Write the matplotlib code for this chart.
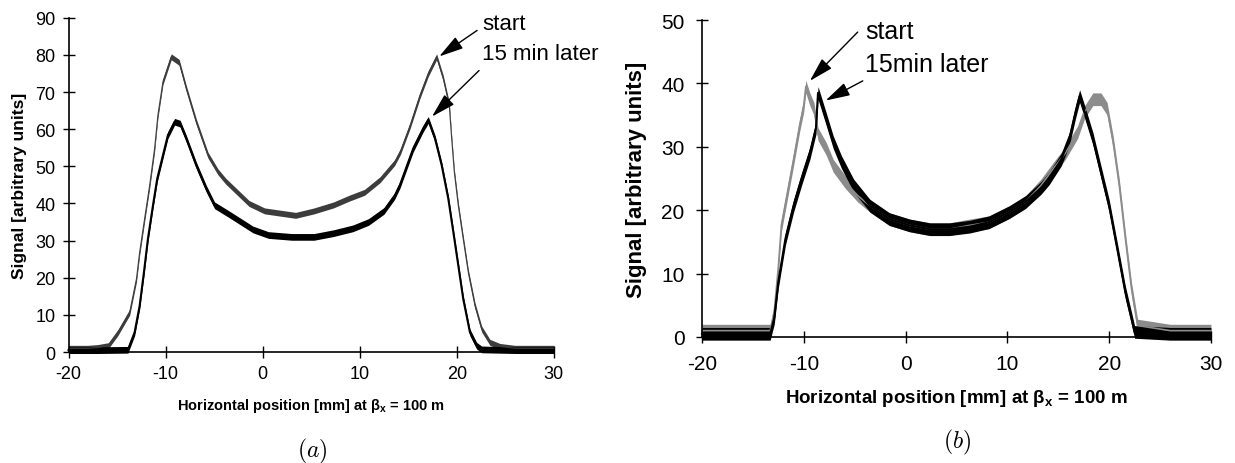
import numpy as np
import matplotlib
matplotlib.use("Agg")
import matplotlib.pyplot as plt

plt.rcParams['font.family'] = ['Liberation Sans', 'DejaVu Sans']
plt.rcParams['axes.unicode_minus'] = False

# ---- panel (a): beam profile, start and 15 min later ----
xa_start = [-20, -18, -17, -15.9, -14.9, -13.7, -13.0, -12.67, -12.16, -11.64, -11.13, -10.79,
            -10.27, -9.42, -8.6, -7.87, -6.84, -5.63, -4.6, -3.8, -2.6, -1.4, 0.2, 1.8, 3.4,
            5.3, 7.3, 8.9, 10.5, 12.1, 13.6, 14.2, 15.2, 16.2, 17.07, 17.93, 18.61, 19.23,
            19.48, 19.75, 20.16, 20.67, 21.19, 21.88, 22.57, 23.42, 24.45, 26, 30]
ya_start = [1, 1, 1.2, 1.7, 5.3, 10.7, 19.7, 26.9, 35.9, 44.9, 54.8, 63.8,
            72.8, 79.5, 78, 71, 62, 53, 48.5, 46, 43, 40, 38, 37.4, 36.8,
            38, 39.6, 41.4, 43, 46.4, 51, 54, 61, 69, 75, 79.5, 73.7, 66.5,
            57.5, 48.5, 39.5, 30.5, 21.5, 12.5, 6.2, 2.6, 1.5, 1, 1]

xa_later = [-20, -17, -13.88, -13.19, -12.67, -12.23, -11.82, -11.3, -10.86, -10.27, -9.76,
            -9.07, -8.5, -7.87, -6.84, -5.81, -4.95, -3.4, -2.2, -1.0, 0.6, 3.0, 5.3, 7.3,
            9.3, 10.9, 12.5, 13.6, 14.15, 15.52, 16.55, 17.07, 17.76, 18.45, 19.13, 19.65,
            20.16, 20.67, 21.36, 22.05, 22.57, 26, 30]
ya_later = [0.5, 0.5, 0.6, 5.3, 12.5, 21.5, 30.5, 39.5, 46.7, 53, 58.4,
            62, 61.5, 57.5, 50.3, 44, 39.5, 37, 35, 33, 31.5, 31, 31, 32,
            33.3, 35, 38, 42, 45, 54.8, 60.2, 62.5, 57.5, 50.3, 41.3, 32.3,
            23.3, 14.3, 5.3, 1.7, 0.7, 0.5, 0.5]

# ---- panel (b) ----
xb_start = [-20, -16, -13.3, -12.9, -12.5, -12.2, -11.6, -11.0, -10.4, -10.0, -9.8, -9.4, -9.0,
            -8.6, -7.8, -7.1, -5.9, -4.7, -3.5, -1.6, 0.4, 2.4, 4.3, 6.3, 8.2, 10.2, 11.8,
            13.3, 14.5, 15.7, 16.9, 17.6, 18.4, 19.2, 19.8, 20.4, 21.0, 21.6, 22.2, 22.8, 26, 30]
yb_start = [1, 1, 1, 4, 11, 17.6, 22.8, 28, 33.4, 36.5, 39.5, 37.5, 36,
            32, 29.7, 27, 24.4, 22.3, 20.7, 18.6, 17.6, 17, 17, 17.6, 18.1, 19.7, 21.3,
            23.9, 26.5, 29, 32.3, 35.5, 37.5, 37.5, 36, 30.7, 23.9, 15.5, 7.6, 1.8, 1, 1]

xb_later = [-20, -16, -13.3, -12.9, -12.5, -11.8, -11.0, -10.2, -9.4, -8.8, -8.6, -8.4, -7.8,
            -7.1, -6.3, -5.1, -3.5, -1.6, 0.4, 2.4, 4.3, 6.3, 8.2, 10.2, 11.8, 13.3, 14.1,
            15.3, 16.1, 16.7, 17.1, 17.6, 18.4, 19.2, 20.0, 20.8, 21.6, 22.2, 22.5, 26, 30]
yb_later = [0.5, 0.5, 0.5, 3, 8.7, 15.5, 20.7, 25, 29, 33, 38.5, 37.5, 34.4,
            30.7, 27.6, 23.9, 20.7, 18.6, 17.6, 17, 17, 17.4, 18.1, 19.7, 21.3, 23.5, 25,
            28, 31.3, 35.5, 38, 35.5, 31.3, 26, 20.7, 13.9, 7, 2.9, 0.8, 0.5, 0.5]

# half-width of the noise band on each trace
noise_a_start = 0.8
noise_a_later = 0.9
noise_b_start = 1.0
noise_b_later = 1.0

fig = plt.figure(figsize=(12.35, 4.64), dpi=100)
ax1 = fig.add_axes([0.0555, 0.2392, 0.3929, 0.7203])
ax2 = fig.add_axes([0.5684, 0.2716, 0.4121, 0.6831])


def style_axes(ax, ymax, tick_fs, pad):
    ax.set_xlim(-20, 30)
    ax.set_ylim(0, ymax)
    ax.set_xticks(range(-20, 31, 10))
    ax.set_yticks(range(0, ymax + 1, 10))
    for s in ['top', 'right']:
        ax.spines[s].set_visible(False)
    for s in ['left', 'bottom']:
        ax.spines[s].set_linewidth(1.2)
    ax.tick_params(direction='inout', length=9, width=1.0, labelsize=tick_fs, pad=pad)


def draw_curve(ax, x, y, noise, color, lw):
    x = np.array(x)
    y = np.array(y)
    ax.fill_between(x, y - noise, y + noise, color=color, lw=0, clip_on=False)
    ax.plot(x, y, color=color, lw=lw, clip_on=False)


arrow = dict(arrowstyle='-|>,head_length=1.0,head_width=0.28', color='black', lw=1.0,
             mutation_scale=15, shrinkA=0, shrinkB=0)

# panel (a)
style_axes(ax1, 90, 13, 5)
draw_curve(ax1, xa_start, ya_start, noise_a_start, '#3c3c3c', 0.8)
draw_curve(ax1, xa_later, ya_later, noise_a_later, 'black', 1.5)
ax1.set_xlabel('Horizontal position [mm] at β$_\\mathregular{x}$ = 100 m', fontsize=10.5,
               fontweight='bold', labelpad=10)
ax1.set_ylabel('Signal [arbitrary units]', fontsize=12.5, fontweight='bold', labelpad=6)
ax1.text(22.6, 88.5, 'start', fontsize=16, va='center', ha='left', clip_on=False)
ax1.text(22.6, 80.4, '15 min later', fontsize=16, va='center', ha='left', clip_on=False)
ax1.annotate('', xy=(18.2, 79.6), xytext=(22.1, 86.6), arrowprops=arrow, annotation_clip=False)
ax1.annotate('', xy=(17.45, 63.4), xytext=(22.3, 75.8), arrowprops=arrow, annotation_clip=False)

# panel (b)
style_axes(ax2, 50, 15, 8)
draw_curve(ax2, xb_start, yb_start, noise_b_start, '#8c8c8c', 1.2)
draw_curve(ax2, xb_later, yb_later, noise_b_later, 'black', 1.5)
ax2.set_xlabel('Horizontal position [mm] at β$_\\mathregular{x}$ = 100 m', fontsize=13.5,
               fontweight='bold', labelpad=10)
ax2.set_ylabel('Signal [arbitrary units]', fontsize=16, fontweight='bold', labelpad=10)
ax2.text(-4.0, 48.3, 'start', fontsize=18, va='center', ha='left', clip_on=False)
ax2.text(-4.0, 43.1, '15min later', fontsize=18, va='center', ha='left', clip_on=False)
ax2.annotate('', xy=(-9.4, 40.4), xytext=(-4.7, 48.1), arrowprops=arrow, annotation_clip=False)
ax2.annotate('', xy=(-7.85, 37.3), xytext=(-4.2, 40.4), arrowprops=arrow, annotation_clip=False)

# captions
fig.text(312 / 1235, 1 - 451 / 464, '$(a)$', fontsize=17, ha='center', va='center',
         math_fontfamily='cm')
fig.text(957 / 1235, 1 - 442 / 464, '$(b)$', fontsize=17, ha='center', va='center',
         math_fontfamily='cm')

fig.savefig('out.png', dpi=100)
